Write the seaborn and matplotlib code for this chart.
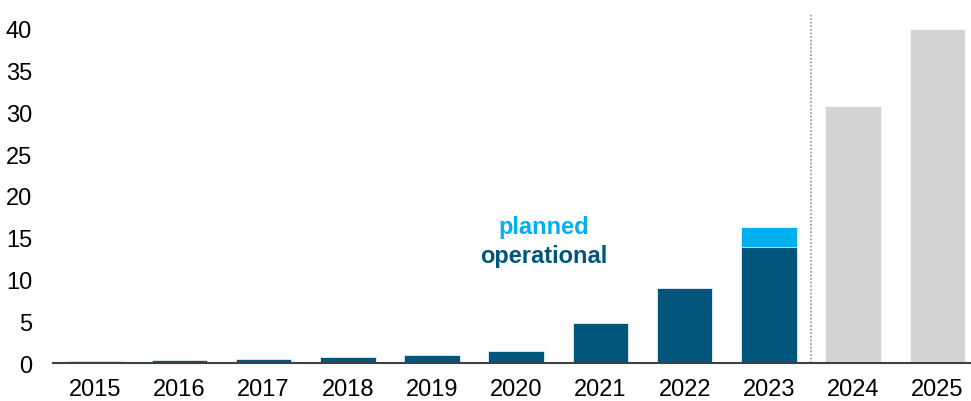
import numpy as np
import pandas as pd
import matplotlib
matplotlib.use("Agg")
import matplotlib.pyplot as plt
import seaborn as sns

# data
years = ["2015", "2016", "2017", "2018", "2019", "2020", "2021", "2022", "2023", "2024", "2025"]
operational = [0.24, 0.36, 0.5, 0.72, 0.92, 1.4, 4.83, 9.0, 13.9, 0, 0]
planned = [0, 0, 0, 0, 0, 0, 0, 0, 2.35, 0, 0]
forecast = [0, 0, 0, 0, 0, 0, 0, 0, 0, 30.8, 40.0]

dark_blue = "#00557A"
light_blue = "#00B0F0"
grey = "#D3D3D3"

sns.set_style("white")
plt.rcParams['font.family'] = ['Liberation Sans', 'DejaVu Sans']

df = pd.DataFrame({"year": years, "operational": operational,
                   "planned": planned, "forecast": forecast})
df["total"] = df["operational"] + df["planned"]

fig = plt.figure(figsize=(9.71, 4.02), dpi=100)
ax = fig.add_axes([0.0546, 0.0945, 0.9454, 0.8835])

w = 0.66
# planned drawn as full stack height, operational on top of it
sns.barplot(data=df, x="year", y="total", color=light_blue, width=w,
            saturation=1, ax=ax, edgecolor="white", linewidth=0.5)
sns.barplot(data=df, x="year", y="operational", color=dark_blue, width=w,
            saturation=1, ax=ax, edgecolor="white", linewidth=0.5)
sns.barplot(data=df, x="year", y="forecast", color=grey, width=w,
            saturation=1, ax=ax, edgecolor="white", linewidth=0.5)

# dotted separator between actual and forecast
ax.axvline(8.5, ymin=0, ymax=0.985, color="#A0A0A0", linestyle=(0, (1, 1)),
           linewidth=1.3, clip_on=False)

ax.text(5.33, 16.3, "planned", color=light_blue, fontsize=17,
        fontweight="bold", ha="center", va="center")
ax.text(5.33, 12.85, "operational", color=dark_blue, fontsize=17,
        fontweight="bold", ha="center", va="center")

ax.set_xlim(-0.5, 10.4)
ax.set_ylim(0, 42.5)
ax.set_yticks(range(0, 45, 5))
ax.set_xlabel("")
ax.set_ylabel("")
ax.tick_params(axis="y", length=0, pad=15, labelsize=17, labelcolor="black")
ax.tick_params(axis="x", length=0, pad=11, labelsize=17, labelcolor="black")
for s in ["top", "right", "left"]:
    ax.spines[s].set_visible(False)
ax.spines["bottom"].set_color("#404040")
ax.spines["bottom"].set_linewidth(1.5)

fig.savefig("out.png", dpi=100)
